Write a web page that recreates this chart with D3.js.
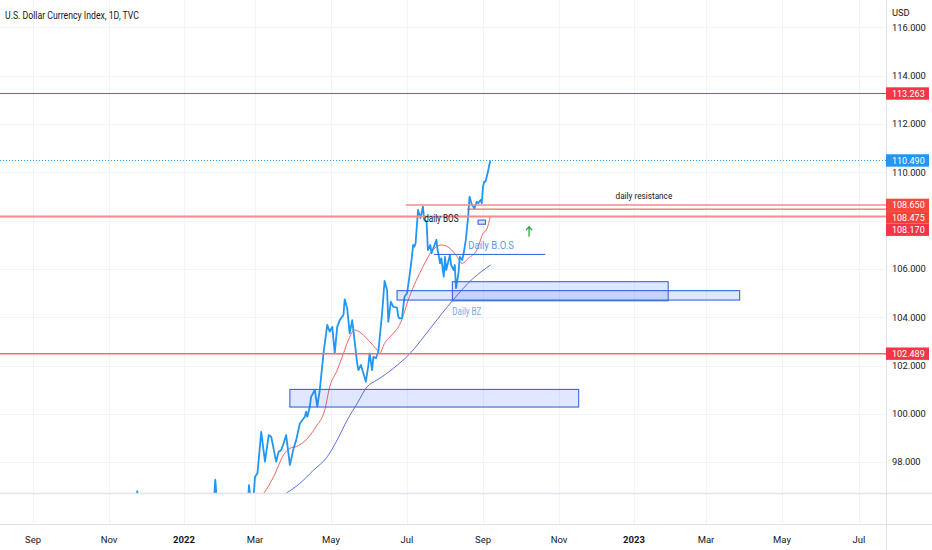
<!DOCTYPE html>
<html><head><meta charset="utf-8">
<script src="https://cdn.jsdelivr.net/npm/d3@7"></script>
<style>
html,body{margin:0;padding:0;background:#fff;}
svg{display:block;font-family:Roboto,"Noto Sans",Arial,sans-serif;}
</style></head><body>
<svg id="chart" width="932" height="550"></svg>
<script>
// ---------------- DATA ----------------
const titleText = "U.S. Dollar Currency Index, 1D, TVC";
const currencyLabel = "USD";
const timeTickDates = ["2021-09-01","2021-11-01","2022-01-01","2022-03-01","2022-05-01","2022-07-01","2022-09-01","2022-11-01","2023-01-01","2023-03-01","2023-05-01","2023-07-01"];
const timeTickLabels = ["Sep","Nov","2022","Mar","May","Jul","Sep","Nov","2023","Mar","May","Jul"];
const timeTickBold = [false,false,true,false,false,false,false,false,true,false,false,false];
const priceTicks = [98,100,102,104,106,108,110,112,114,116];

const dxyDates = ["2021-11-01","2021-11-03","2021-11-05","2021-11-09","2021-11-10","2021-11-12","2021-11-16","2021-11-18","2021-11-19","2021-11-22","2021-11-23","2021-11-24","2021-11-26","2021-11-30","2021-12-02","2021-12-06","2021-12-08","2021-12-10","2021-12-14","2021-12-16","2021-12-17","2021-12-21","2021-12-23","2021-12-28","2021-12-31","2022-01-04","2022-01-07","2022-01-12","2022-01-14","2022-01-18","2022-01-21","2022-01-25","2022-01-26","2022-01-27","2022-01-28","2022-02-01","2022-02-03","2022-02-07","2022-02-10","2022-02-14","2022-02-16","2022-02-18","2022-02-22","2022-02-23","2022-02-24","2022-02-25","2022-02-28",
"2022-03-01","2022-03-03","2022-03-06","2022-03-09","2022-03-12","2022-03-14","2022-03-18","2022-03-20","2022-03-22","2022-03-24","2022-03-26","2022-03-29","2022-04-01","2022-04-03","2022-04-06","2022-04-10","2022-04-11","2022-04-12","2022-04-14","2022-04-15","2022-04-18","2022-04-20","2022-04-22","2022-04-25","2022-04-28","2022-04-30",
"2022-05-02","2022-05-04","2022-05-06","2022-05-08","2022-05-11","2022-05-12","2022-05-14","2022-05-16","2022-05-18","2022-05-20","2022-05-22","2022-05-23","2022-05-25","2022-05-27","2022-05-29","2022-05-31","2022-06-01","2022-06-03","2022-06-04","2022-06-06","2022-06-08","2022-06-11","2022-06-13","2022-06-15","2022-06-16","2022-06-18","2022-06-20","2022-06-23","2022-06-24","2022-06-25","2022-06-27","2022-06-28","2022-06-29",
"2022-07-01","2022-07-03","2022-07-05","2022-07-06","2022-07-07","2022-07-08","2022-07-10","2022-07-12","2022-07-14","2022-07-15","2022-07-17","2022-07-18","2022-07-20","2022-07-21","2022-07-24","2022-07-25","2022-07-26","2022-07-28","2022-07-29","2022-07-31","2022-08-01","2022-08-02","2022-08-04","2022-08-05","2022-08-06","2022-08-08","2022-08-09","2022-08-10","2022-08-12","2022-08-13","2022-08-15","2022-08-16","2022-08-18","2022-08-20","2022-08-21","2022-08-23","2022-08-24","2022-08-25","2022-08-27","2022-08-28","2022-08-30","2022-08-31","2022-09-01","2022-09-02","2022-09-03","2022-09-05","2022-09-06","2022-09-07"];
const dxyValues = [94.1,94.1,94.3,94.0,94.9,95.1,95.9,95.6,96.0,96.5,96.5,96.8,96.1,96.0,96.1,96.3,95.9,96.1,96.5,96.0,96.55,96.5,96.1,96.2,95.97,96.3,95.7,95.0,95.2,95.7,95.6,96.0,96.5,97.27,96.6,96.3,95.4,95.5,95.8,96.3,95.8,96.0,96.0,96.2,97.05,96.6,96.7,
97.38,97.55,99.25,98.02,99.12,99.05,98.02,98.43,98.5,98.78,99.12,97.88,98.57,98.9,99.6,99.88,100.09,99.88,100.3,100.7,100.99,100.3,100.99,102.52,103.68,103.4,
103.6,102.52,103.6,103.88,104.09,104.74,104.37,103.33,103.88,102.99,102.09,101.81,102.02,101.68,101.33,102.02,102.5,101.81,102.36,102.3,102.57,104.16,105.5,105.13,103.81,104.64,104.43,104.4,104.02,103.95,103.95,104.43,104.85,
104.99,105.68,106.5,106.99,106.92,107.06,108.44,108.1,108.58,108.03,107.95,106.78,106.99,106.65,107.06,107.2,106.78,106.23,106.44,105.68,106.5,105.95,106.37,106.58,106.16,105.95,106.16,105.2,105.82,106.5,106.37,106.58,107.2,108.23,108.99,108.65,108.58,108.51,108.78,108.72,108.85,108.72,109.4,109.61,109.61,110.02,110.3,110.49];

// fast average (red)
const emaDates = ["2022-01-15","2022-02-10","2022-02-25","2022-03-08","2022-03-16","2022-03-24","2022-03-29","2022-04-03","2022-04-11","2022-04-19","2022-04-26","2022-04-30","2022-05-06","2022-05-11","2022-05-15","2022-05-20","2022-05-27","2022-06-01","2022-06-07","2022-06-09","2022-06-13","2022-06-20","2022-06-25","2022-07-03","2022-07-14","2022-07-22","2022-07-29","2022-08-05","2022-08-11","2022-08-15","2022-08-20","2022-08-27","2022-09-01","2022-09-04","2022-09-07"];
const emaValues = [96.0,96.0,96.3,96.71,97.40,98.3,98.57,98.64,98.92,99.47,100.16,101.12,101.81,102.5,103.06,103.47,103.26,102.99,102.64,102.5,102.92,103.33,103.68,104.85,106.09,106.78,106.99,106.85,106.5,106.23,106.44,106.78,107.47,107.64,108.2];
// slow average (purple)
const smaDates = ["2022-01-15","2022-02-15","2022-03-10","2022-03-26","2022-04-06","2022-04-17","2022-04-28","2022-05-06","2022-05-14","2022-05-22","2022-05-30","2022-06-07","2022-06-15","2022-06-25","2022-07-03","2022-07-20","2022-08-07","2022-08-24","2022-09-07"];
const smaValues = [95.6,95.9,96.3,96.71,97.12,97.67,98.22,98.92,99.74,100.43,101.12,101.4,101.68,102.09,102.47,103.54,104.68,105.61,106.16];

// horizontal levels
const levelValues = [113.263, 108.65, 108.475, 108.17, 102.489];
const levelStarts = [null, "2022-06-30", "2022-08-19", null, null];
const levelLabelColors = ["#f23645","#f5473b","#f44336","#f23645","#f23645"];
const lastPrice = 110.49;

// rectangles (zones)
const zoneStarts = ["2022-03-29","2022-06-23","2022-08-07","2022-08-28"];
const zoneEnds   = ["2022-11-17","2023-03-28","2023-01-29","2022-09-03"];
const zoneLows   = [100.28, 104.71, 104.68, 107.85];
const zoneHighs  = [101.01, 105.10, 105.47, 108.02];

// break-of-structure segment
const bosStart = "2022-07-23", bosEnd = "2022-10-21", bosValue = 106.6;

// text notes
const noteTexts  = ["daily BOS","Daily B.O.S","Daily BZ","daily resistance"];
const noteDates  = ["2022-07-15","2022-08-20","2022-08-07","2022-12-17"];
const noteValues = [107.93, 106.83, 104.09, 108.88];

// arrow
const arrowDate = "2022-10-08", arrowFrom = 107.33, arrowTo = 107.75;

// ---------------- DRAW ----------------
const parse = d3.utcParse("%Y-%m-%d");
const W = 932, H = 550, paneR = 886, paneB = 493, axisB = 524;
const svg = d3.select("#chart");

const x = d3.scaleUtc()
  .domain(timeTickDates.map(parse))
  .range([33,109,184,255,331,407,483,559,634,706,782,859]);
const y = d3.scaleLinear().domain([100,110]).range([413.8,172.3]);

svg.append("rect").attr("width",W).attr("height",H).attr("fill","#fff");
svg.append("defs").append("clipPath").attr("id","pane")
  .append("rect").attr("x",0).attr("y",0).attr("width",paneR).attr("height",paneB);

// grid
const grid = svg.append("g").attr("stroke","#f0f3fa").attr("stroke-width",1);
grid.selectAll("line.v").data(timeTickDates).join("line")
  .attr("x1",d=>Math.round(x(parse(d)))+0.5).attr("x2",d=>Math.round(x(parse(d)))+0.5)
  .attr("y1",0).attr("y2",axisB);
grid.selectAll("line.h").data(priceTicks).join("line")
  .attr("x1",0).attr("x2",paneR)
  .attr("y1",d=>Math.round(y(d))+0.5).attr("y2",d=>Math.round(y(d))+0.5);

const pane = svg.append("g").attr("clip-path","url(#pane)");

// last price dotted line
pane.append("line").attr("x1",0).attr("x2",paneR)
  .attr("y1",y(lastPrice)).attr("y2",y(lastPrice))
  .attr("stroke","#2196f3").attr("stroke-width",1).attr("stroke-dasharray","1,2");

// moving averages
const maLine = d3.line().x(d=>x(d[0])).y(d=>y(d[1])).curve(d3.curveMonotoneX);
pane.append("path").datum(smaDates.map((d,i)=>[parse(d),smaValues[i]]))
  .attr("d",maLine).attr("fill","none").attr("stroke","#4e5bd8").attr("stroke-width",0.9);
pane.append("path").datum(emaDates.map((d,i)=>[parse(d),emaValues[i]]))
  .attr("d",maLine).attr("fill","none").attr("stroke","#ef5350").attr("stroke-width",0.9);

// main series
const mainLine = d3.line().x(d=>x(d[0])).y(d=>y(d[1]));
pane.append("path").datum(dxyDates.map((d,i)=>[parse(d),dxyValues[i]]))
  .attr("d",mainLine).attr("fill","none").attr("stroke","#2196f3")
  .attr("stroke-width",1.8).attr("stroke-linejoin","round");

// level lines
const levelStroke = ["#f23645","#f58a8f","#e0464c","#f58a8f","#ec6f74"];
const levelWidth = [1.2,1.5,1,1.8,1.5];
levelValues.forEach((v,i)=>{
  pane.append("line")
    .attr("x1", levelStarts[i] ? x(parse(levelStarts[i])) : 0).attr("x2",paneR)
    .attr("y1",y(v)).attr("y2",y(v))
    .attr("stroke",levelStroke[i]).attr("stroke-width",levelWidth[i]);
});

// zones
zoneStarts.forEach((s,i)=>{
  const x0 = x(parse(s)), x1 = x(parse(zoneEnds[i]));
  const y0 = y(zoneHighs[i]), y1 = y(zoneLows[i]);
  pane.append("rect").attr("x",x0).attr("y",y0).attr("width",x1-x0).attr("height",y1-y0)
    .attr("fill","rgba(41,98,255,0.15)").attr("stroke","#3568e3").attr("stroke-width",1.1);
});

// BOS segment
pane.append("line").attr("x1",x(parse(bosStart))).attr("x2",x(parse(bosEnd)))
  .attr("y1",y(bosValue)).attr("y2",y(bosValue))
  .attr("stroke","#2e5fdc").attr("stroke-width",1);

// notes
const noteSize = [10,11.5,11,9.5];
const noteWidth = [34.3,45.6,29,56.7];
const noteColor = ["#131722","#5e98ea","#7aa6ea","#131722"];
noteTexts.forEach((t,i)=>{
  pane.append("text").attr("x",x(parse(noteDates[i]))).attr("y",y(noteValues[i]))
    .attr("font-size",noteSize[i]).attr("fill",noteColor[i])
    .attr("textLength",noteWidth[i]).attr("lengthAdjust","spacingAndGlyphs")
    .text(t);
});

// arrow
{
  const ax = x(parse(arrowDate)), ya = y(arrowFrom), yb = y(arrowTo);
  pane.append("path")
    .attr("d",`M${ax},${ya}L${ax},${yb}M${ax-3},${yb+3.5}L${ax},${yb}L${ax+3},${yb+3.5}`)
    .attr("fill","none").attr("stroke","#2aa63c").attr("stroke-width",1.3);
}

// title
svg.append("text").attr("x",5).attr("y",19).attr("font-size",11)
  .attr("fill","#131722").attr("textLength",134).attr("lengthAdjust","spacingAndGlyphs")
  .text(titleText);

// separators
svg.append("line").attr("x1",paneR+0.5).attr("x2",paneR+0.5).attr("y1",0).attr("y2",H)
  .attr("stroke","#e0e3eb");
svg.append("line").attr("x1",0).attr("x2",W).attr("y1",paneB+0.5).attr("y2",paneB+0.5)
  .attr("stroke","#e0e3eb").attr("stroke-width",1.5);
svg.append("line").attr("x1",0).attr("x2",W).attr("y1",axisB+0.5).attr("y2",axisB+0.5)
  .attr("stroke","#e0e3eb");

// time labels
svg.append("g").selectAll("text").data(timeTickDates).join("text")
  .attr("x",d=>x(parse(d))).attr("y",543).attr("text-anchor","middle")
  .attr("font-size",9.5).attr("fill","#131722")
  .attr("font-weight",(d,i)=>timeTickBold[i]?"bold":"normal")
  .text((d,i)=>timeTickLabels[i]);

// price label boxes layout (stacked to avoid overlap)
const boxH = 12.4;
const tags = levelValues.map((v,i)=>({v, c:levelLabelColors[i]}));
tags.push({v:lastPrice, c:"#2196f3"});
tags.sort((a,b)=>b.v-a.v);
let lastBottom = -Infinity;
tags.forEach(t=>{
  let cy = y(t.v);
  if (cy - boxH/2 < lastBottom) cy = lastBottom + boxH/2;
  lastBottom = cy + boxH/2;
  t.cy = cy;
});

// price labels (those hidden under a tag box are not shown)
svg.append("text").attr("x",892).attr("y",16).attr("font-size",9.3).attr("fill","#131722").text(currencyLabel);
const visibleTicks = priceTicks.filter(v=>!tags.some(t=>Math.abs(t.cy - y(v)) < boxH*0.75));
svg.append("g").selectAll("text").data(visibleTicks).join("text")
  .attr("x",892).attr("y",d=>y(d)+3.3).attr("font-size",9.3).attr("fill","#131722")
  .text(d=>d.toFixed(3));

tags.forEach(t=>{
  svg.append("rect").attr("x",paneR).attr("y",t.cy-boxH/2).attr("width",43).attr("height",boxH)
    .attr("fill",t.c);
  svg.append("text").attr("x",892).attr("y",t.cy+3.2).attr("font-size",9).attr("fill","#fff")
    .text(t.v.toFixed(3));
});
</script>
</body></html>
